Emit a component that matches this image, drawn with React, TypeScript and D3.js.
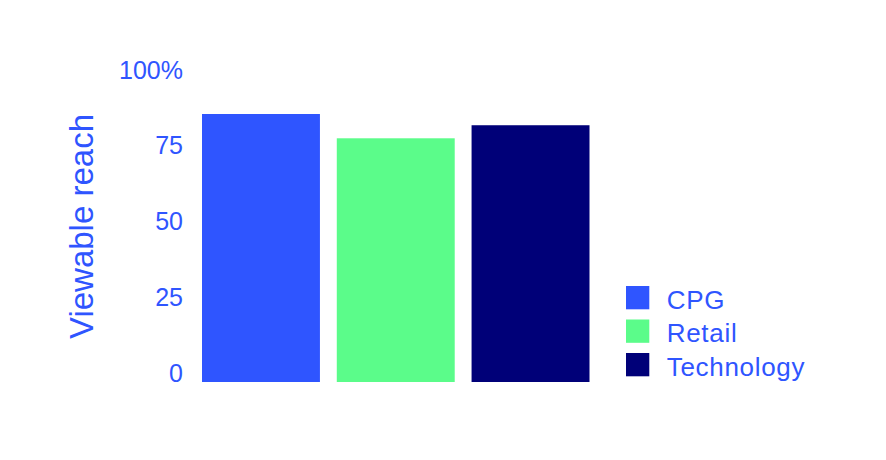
import React, { useEffect, useRef } from 'react';
import * as d3 from 'd3';

const categories = ['CPG', 'Retail', 'Technology'];
const values = [88.3, 80.3, 84.6];
const colors = ['#2f55ff', '#5bfc8a', '#000078'];
const tickValues = [0, 25, 50, 75, 100];
const tickLabels = ['0', '25', '50', '75', '100%'];
const axisTitle = 'Viewable reach';

const TEXT = '#2f55ff';
const FONT = '"Liberation Sans", Arial, sans-serif';

const App: React.FC = () => {
  const svgRef = useRef<SVGSVGElement>(null);

  useEffect(() => {
    if (!svgRef.current) return;
    const width = 886;
    const height = 460;

    const svg = d3.select(svgRef.current).attr('width', width).attr('height', height);
    svg.selectAll('*').remove();

    // Scales
    const x = d3.scaleBand<string>().domain(categories).range([202, 589.5]).paddingInner(0.125).paddingOuter(0);
    const y = d3.scaleLinear().domain([0, 100]).range([382, 78.5]);

    // Bars
    svg
      .append('g')
      .selectAll('rect')
      .data(categories)
      .enter()
      .append('rect')
      .attr('x', (d) => x(d)!)
      .attr('width', x.bandwidth())
      .attr('y', (d, i) => y(values[i]))
      .attr('height', (d, i) => y(0) - y(values[i]))
      .attr('fill', (d, i) => colors[i]);

    // Y tick labels (baseline sits on the tick)
    svg
      .append('g')
      .selectAll('text')
      .data(tickValues)
      .enter()
      .append('text')
      .attr('x', 183)
      .attr('y', (d) => y(d))
      .attr('text-anchor', 'end')
      .attr('fill', TEXT)
      .style('font-family', FONT)
      .style('font-size', '25px')
      .text((d, i) => tickLabels[i]);

    // Axis title
    svg
      .append('text')
      .attr('transform', `translate(92.5, 226.5) rotate(-90)`)
      .attr('text-anchor', 'middle')
      .attr('fill', TEXT)
      .style('font-family', FONT)
      .style('font-size', '33px')
      .text(axisTitle);

    // Legend
    const legend = svg
      .append('g')
      .selectAll('g')
      .data(categories)
      .enter()
      .append('g')
      .attr('transform', (d, i) => `translate(626, ${286 + i * 33.5})`);

    legend
      .append('rect')
      .attr('width', 23.3)
      .attr('height', 23.3)
      .attr('fill', (d, i) => colors[i]);

    legend
      .append('text')
      .attr('x', 40.7)
      .attr('y', 22.5)
      .attr('fill', TEXT)
      .style('font-family', FONT)
      .style('font-size', '26px')
      .style('letter-spacing', '0.7px')
      .text((d) => d);
  }, []);

  return (
    <div style={{ position: 'absolute', left: 0, top: 0, background: '#fff' }}>
      <svg ref={svgRef} style={{ display: 'block' }}></svg>
    </div>
  );
};

export default App;
